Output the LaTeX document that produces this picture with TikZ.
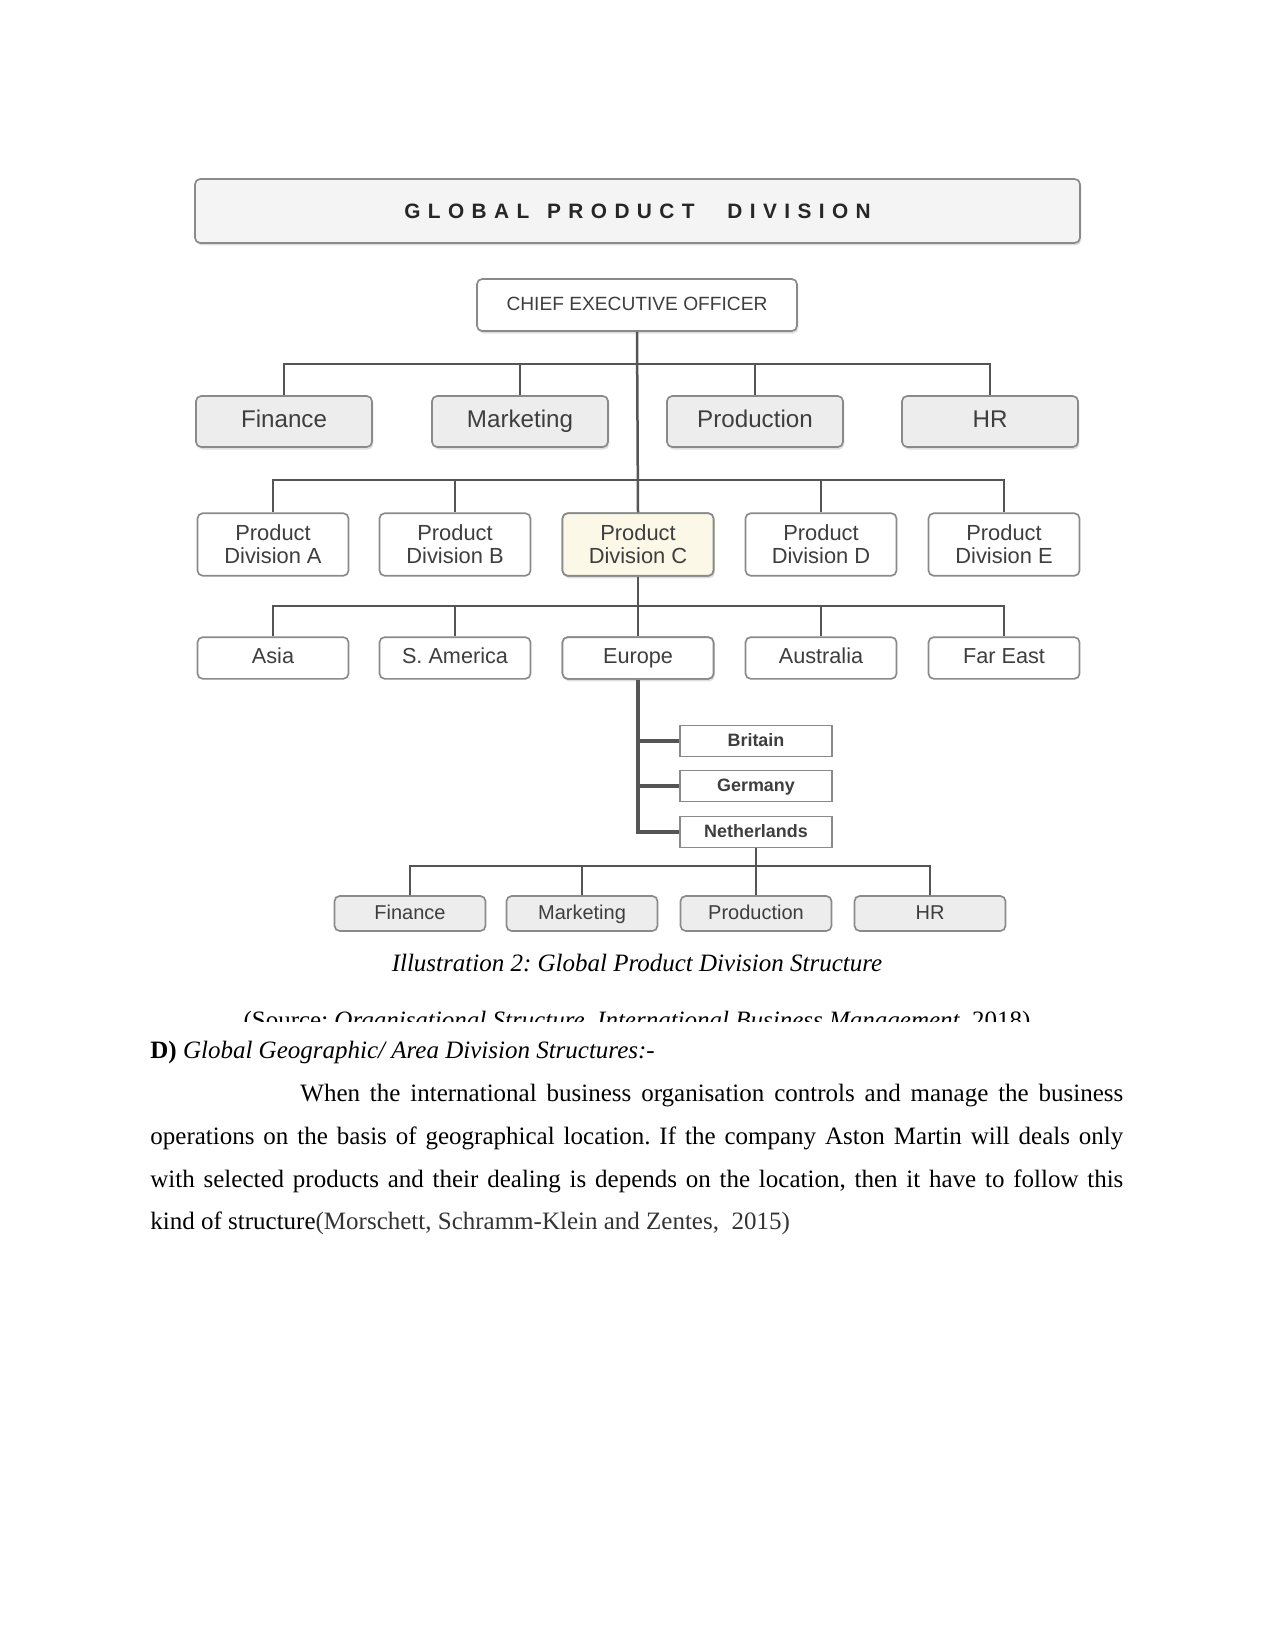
\documentclass[tikz,border=0pt]{standalone}
\usepackage{fontspec}
\setmainfont{Liberation Serif}
\newfontfamily\chartfont{Liberation Sans}
\usetikzlibrary{positioning, shadows}

\definecolor{linegray}{HTML}{555555}
\definecolor{boxgray}{HTML}{8A8A8A}
\definecolor{txtgray}{HTML}{3E3E3E}
\definecolor{fillgray}{HTML}{EDEDED}
\definecolor{fillcream}{HTML}{FBF8E8}
\definecolor{titlefill}{HTML}{F4F4F4}

% letter gap of the heading
\newcommand{\lettergap}{\hspace{3.55pt}}
\newcommand{\spacedword}[1]{\def\sepgap{}\foreach \tchar in {#1}{\sepgap\tchar\gdef\sepgap{\lettergap}}}

\tikzset{
  orgbox/.style={draw=boxgray, line width=0.8pt, rounded corners=2.5pt, inner sep=0pt,
    text=txtgray, font=\chartfont, align=center},
  oneline/.style={text height=1.45ex, text depth=0.25ex},
  softshadow/.style={drop shadow={shadow xshift=0.6pt, shadow yshift=-1.2pt, opacity=0.25}},
  titlebox/.style={orgbox, fill=titlefill, minimum width=424.8pt, minimum height=30.7pt, softshadow},
  ceobox/.style={orgbox, oneline, fill=white, minimum width=153.6pt, minimum height=25pt,
    font=\chartfont\fontsize{9.2}{11}\selectfont, softshadow},
  funcbox/.style={orgbox, oneline, fill=fillgray, minimum width=84.5pt, minimum height=24.5pt,
    font=\chartfont\fontsize{11.6}{13}\selectfont, softshadow},
  divbox/.style={orgbox, minimum width=72.5pt, minimum height=30pt,
    font=\chartfont\fontsize{10.5}{11}\selectfont},
  regionbox/.style={orgbox, oneline, fill=white, minimum width=72.5pt, minimum height=20pt,
    font=\chartfont\fontsize{10.4}{12}\selectfont},
  countrybox/.style={orgbox, oneline, rounded corners=0pt, fill=white, minimum width=73pt, minimum height=15pt,
    font=\chartfont\bfseries\fontsize{8.6}{10}\selectfont},
  subbox/.style={orgbox, oneline, fill=fillgray, minimum width=72.5pt, minimum height=16.8pt,
    font=\chartfont\fontsize{9.6}{11}\selectfont},
  conn/.style={draw=linegray, line width=1.2pt},
  connthick/.style={draw=linegray, line width=1.6pt},
  connthin/.style={draw=linegray, line width=0.8pt},
  bodyline/.style={anchor=base west, inner sep=0pt}
}

\begin{document}
\frenchspacing
\begin{tikzpicture}[x=0.48pt, y=-0.48pt]
  \useasboundingbox (0,0) rectangle (1275,1651);

  % Heading and top of the chart
  \node[titlebox] (title) at (637.5,211)
    {\chartfont\bfseries\fontsize{10}{12}\selectfont\color{black!85}%
     \spacedword{G,L,O,B,A,L}\hspace{8.6pt}\spacedword{P,R,O,D,U,C,T}\hspace{15.8pt}\spacedword{D,I,V,I,S,I,O,N}};
  \node[ceobox] (ceo) at (637,305) {CHIEF EXECUTIVE OFFICER};

  % Functions
  \foreach \nm/\cx/\lab in {fin/284/Finance, mkt/520/Marketing, prd/755/Production, hr/990/HR}
    \node[funcbox] (\nm) at (\cx,421.5) {\lab};

  % Product divisions
  \foreach \nm/\cx/\lab/\fc in {pdA/273/A/white, pdB/455/B/white, pdC/638/C/fillcream,
                                pdD/821/D/white, pdE/1004/E/white}
    \node[divbox, fill=\fc] (\nm) at (\cx,544.5) {Product\\Division \lab};
  \node[divbox, fill=fillcream, softshadow] at (pdC) {Product\\Division C};

  % Regions
  \foreach \nm/\cx/\lab in {asia/273/Asia, sam/455/S. America, eu/638/Europe,
                            aus/821/Australia, fe/1004/Far East}
    \node[regionbox] (\nm) at (\cx,658) {\lab};
  \node[regionbox, softshadow] at (eu) {Europe};

  % Countries
  \foreach \nm/\cy/\lab in {bri/741/Britain, ger/786/Germany, nl/832/Netherlands}
    \node[countrybox] (\nm) at (756,\cy) {\lab};

  % Country functions
  \foreach \nm/\cx/\lab in {fin2/410/Finance, mkt2/582/Marketing, prd2/756/Production, hr2/930/HR}
    \node[subbox] (\nm) at (\cx,913.5) {\lab};

  % Connectors
  \coordinate (busA) at (0,364);
  \coordinate (busB) at (0,480);
  \coordinate (busC) at (0,606);
  \coordinate (busD) at (0,866);
  \draw[conn] (ceo.south) -- (pdC.north);
  \draw[conn] (fin.north) |- (busA -| hr.north) -- (hr.north);
  \foreach \nm in {mkt, prd}
    \draw[conn] (\nm.north) -- (\nm.north |- busA);
  \draw[conn] (pdA.north) |- (busB -| pdE.north) -- (pdE.north);
  \foreach \nm in {pdB, pdD}
    \draw[conn] (\nm.north) -- (\nm.north |- busB);
  \draw[conn] (pdC.south) -- (eu.north);
  \draw[conn] (asia.north) |- (busC -| fe.north) -- (fe.north);
  \foreach \nm in {sam, aus}
    \draw[conn] (\nm.north) -- (\nm.north |- busC);
  \draw[connthick] (eu.south) |- (nl.west);
  \foreach \nm in {bri, ger}
    \draw[connthick] (\nm.west) -- (\nm.west -| eu.south);
  \draw[connthin] (nl.south) -- (prd2.north);
  \draw[connthin] (fin2.north) |- (busD -| hr2.north) -- (hr2.north);
  \draw[connthin] (mkt2.north) -- (mkt2.north |- busD);

  % Caption and source (source line cut at the image edge)
  \node[anchor=base, inner sep=0pt] (caption) at (637,971)
    {\fontsize{12}{14}\selectfont\itshape Illustration 2: Global Product Division Structure};
  \begin{scope}
    \clip (0,0) rectangle (1275,1021);
    \node[anchor=base, inner sep=0pt] (source) at (637,1028)
      {\fontsize{12}{14}\selectfont (Source: \textit{Organisational Structure, International Business Management,} 2018)};
  \end{scope}

  % Body text
  \node[bodyline] (head) at (150,1058)
    {\fontsize{12}{14}\selectfont\textbf{D)} \textit{Global Geographic/ Area Division Structures:-}};
  \node[bodyline] (line1) at (300,1101)
    {\fontsize{12}{14}\selectfont\makebox[395pt][s]{When the international business organisation controls and manage the business}};
  \node[bodyline] (line2) at (150,1144)
    {\fontsize{12}{14}\selectfont\makebox[467pt][s]{operations on the basis of geographical location. If the company Aston Martin will deals only}};
  \node[bodyline] (line3) at (150,1187)
    {\fontsize{12}{14}\selectfont\makebox[467pt][s]{with selected products and their dealing is depends on the location, then it have to follow this}};
  \node[bodyline] (line4) at (150,1229)
    {\fontsize{12}{14}\selectfont kind of structure{\color{black!80}(Morschett, Schramm-Klein and Zentes,\ \ 2015)}};
\end{tikzpicture}
\end{document}
